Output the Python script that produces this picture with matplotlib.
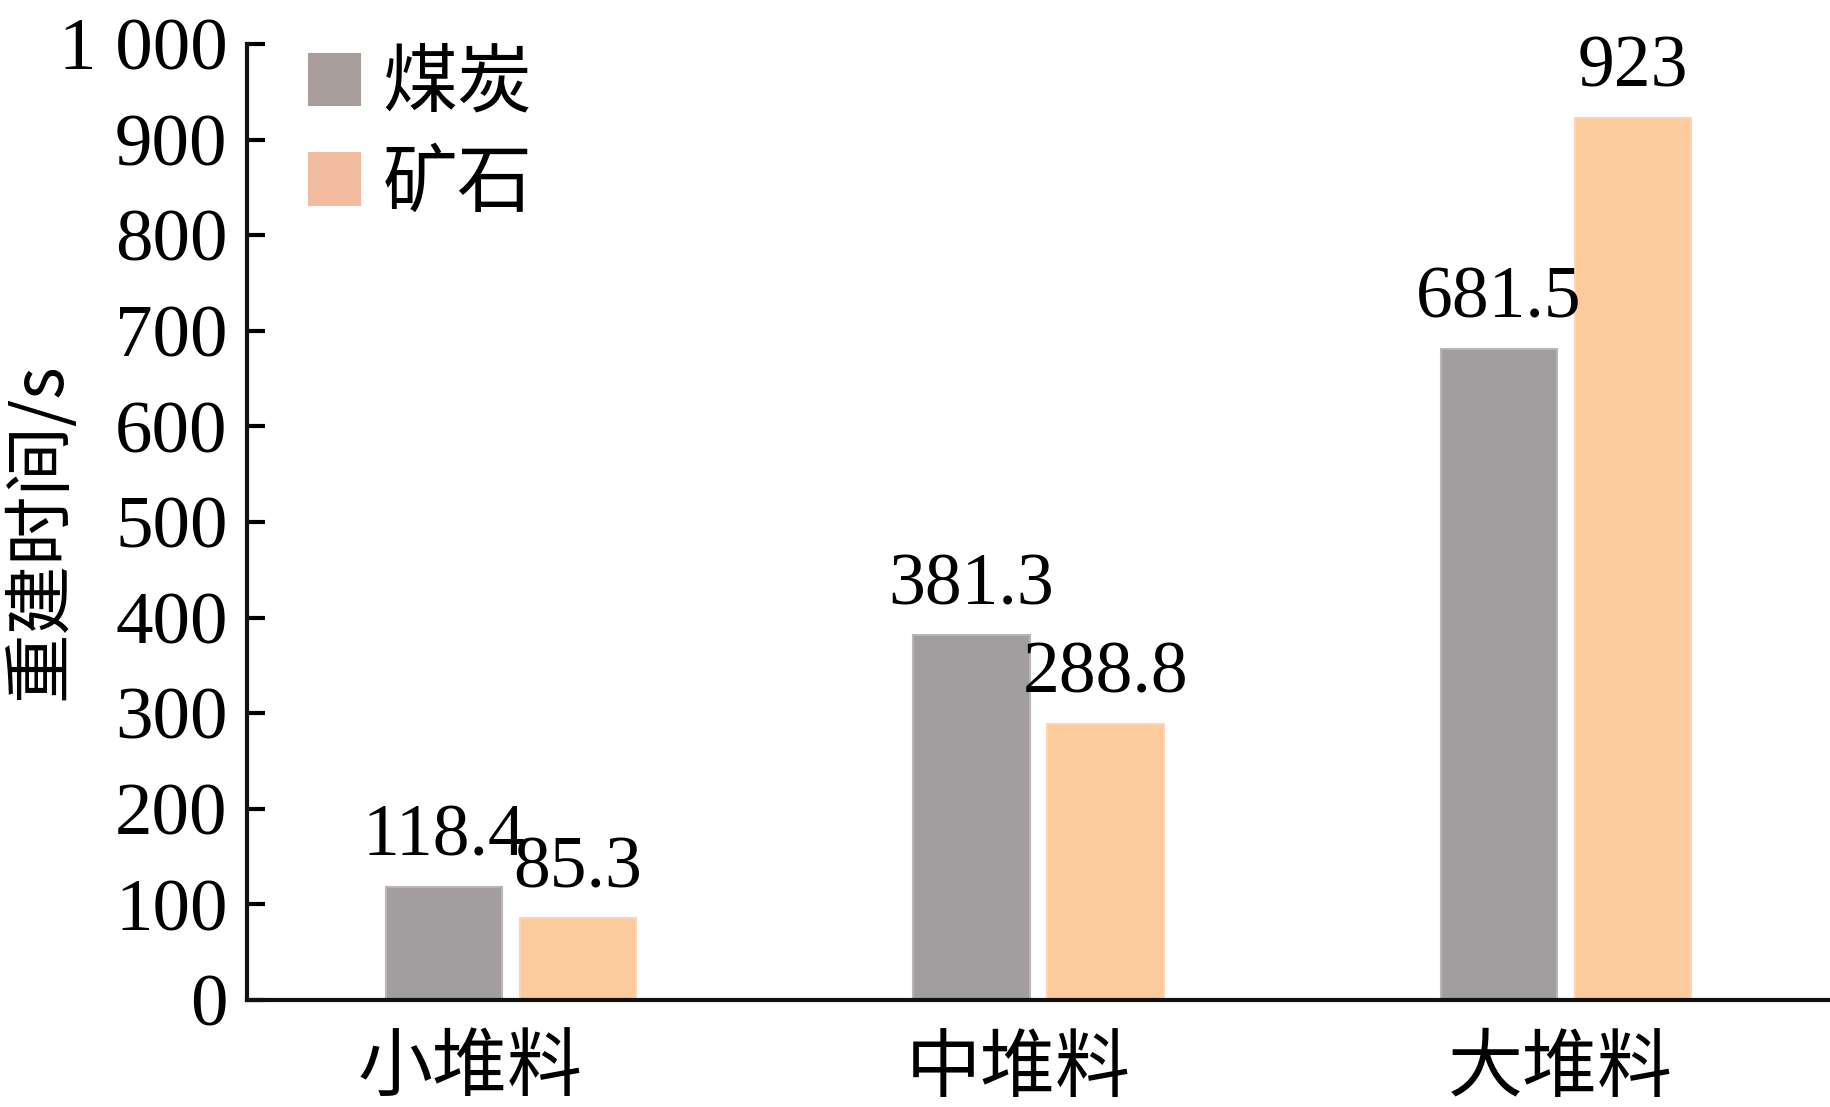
import numpy as np
import matplotlib
matplotlib.use("Agg")
import matplotlib.pyplot as plt
from matplotlib.transforms import ScaledTranslation

# data
groups = ["小堆料", "中堆料", "大堆料"]
coal = [118.4, 381.3, 681.5]
ore = [85.3, 288.8, 923]
coal_labels = ["118.4", "381.3", "681.5"]
ore_labels = ["85.3", "288.8", "923"]
yticks = [0, 100, 200, 300, 400, 500, 600, 700, 800, 900, 1000]
ytick_labels = ["0", "100", "200", "300", "400", "500", "600", "700", "800", "900", "1 000"]

cjk = ["Noto Sans CJK SC", "DejaVu Sans"]
serif = ["Liberation Serif", "DejaVu Serif"]

fig = plt.figure(figsize=(18.3, 11.07), dpi=100)
ax = fig.add_axes([0.135, 0.0967, 0.865, 0.8635])

x = np.arange(len(groups))
w = 0.22
off = 0.127
ax.bar(x - off, coal, w, color="#a29e9f", edgecolor="#b8b5b6", linewidth=1.5, label="煤炭")
ax.bar(x + off, ore, w, color="#fbca9d", edgecolor="#fcd6b3", linewidth=1.5, label="矿石")

for xi, v, s in zip(x - off, coal, coal_labels):
    ax.text(xi, v + 16, s, ha="center", va="bottom", fontsize=53, family=serif)
for xi, v, s in zip(x + off, ore, ore_labels):
    ax.text(xi, v + 16, s, ha="center", va="bottom", fontsize=53, family=serif)

ax.set_xlim(-0.5, 2.5)
ax.set_ylim(0, 1000)
ax.set_yticks(yticks)
ax.set_yticklabels(ytick_labels, family=serif, fontsize=54)
ax.set_xticks(x)
ax.set_xticklabels(groups, family=cjk, fontsize=54)
ax.tick_params(axis="y", direction="in", length=13, width=3, pad=14)
ax.tick_params(axis="x", length=0, pad=22)

# category labels sit a little left of the group centres in the original
for lab, dx in zip(ax.get_xticklabels(), [-0.41, -0.20, -0.06]):
    lab.set_transform(lab.get_transform() + ScaledTranslation(dx, 0, fig.dpi_scale_trans))

ax.set_ylabel("重建时间/s", family=cjk, fontsize=50)
ax.yaxis.set_label_coords(-0.108, 0.49)

for side in ["top", "right"]:
    ax.spines[side].set_visible(False)
ax.spines["left"].set_linewidth(3)
ax.spines["bottom"].set_linewidth(3)
ax.spines["left"].set_color("#111111")
ax.spines["bottom"].set_color("#111111")

leg = ax.legend(loc="upper left", bbox_to_anchor=(0.039, 0.998), frameon=False,
                prop={"family": cjk, "size": 54}, handlelength=0.68, handleheight=0.68,
                handletextpad=0.3, labelspacing=0.3, borderpad=0, borderaxespad=0)
leg.legend_handles[0].set_color("#a89d9a")
leg.legend_handles[1].set_color("#f2bca0")

fig.savefig("out.png", dpi=100)
